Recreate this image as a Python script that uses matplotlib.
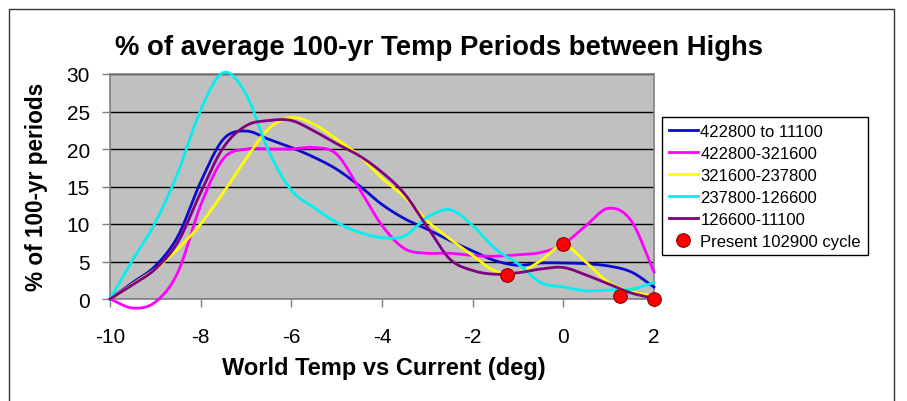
import numpy as np
import matplotlib
matplotlib.use("Agg")
import matplotlib.pyplot as plt
from matplotlib.patches import Rectangle

plt.rcParams['font.family'] = ['Liberation Sans', 'DejaVu Sans']
plt.rcParams['axes.unicode_minus'] = False

# data (x step 0.5 deg)
temps = [-10, -9.5, -9, -8.5, -8, -7.5, -7, -6.5, -6, -5.5, -5, -4.5, -4,
         -3.5, -3, -2.5, -2, -1.5, -1, -0.5, 0, 0.5, 1, 1.5, 2]
all_cycles = [0, 2.2, 4.4, 8.4, 15.6, 21.3, 22.4, 21.3, 20.2, 18.9, 17.3, 15.1, 12.6,
              10.7, 9.3, 7.8, 6.4, 5.1, 4.5, 4.8, 4.8, 4.7, 4.4, 3.6, 1.6]
cyc_422_321 = [0, -1.2, -0.4, 3.6, 12.5, 18.7, 20.0, 20.0, 20.0, 20.2, 19.3, 14.7, 9.8,
               6.7, 6.1, 6.1, 5.8, 5.7, 5.9, 6.2, 7.3, 9.8, 12.1, 10.4, 3.6]
cyc_321_237 = [0, 2.0, 4.0, 6.7, 10.0, 14.2, 18.7, 22.7, 24.2, 23.3, 21.3, 19.1, 16.1,
               13.6, 10.4, 8.0, 5.8, 3.7, 3.5, 5.1, 7.2, 4.9, 2.2, 1.0, 0.4]
cyc_237_126 = [0, 5.2, 10.2, 16.9, 25.2, 30.2, 27.3, 19.7, 14.5, 12.2, 10.2, 8.9, 8.2,
               8.4, 10.9, 11.9, 9.8, 6.7, 4.7, 2.2, 1.6, 1.1, 1.2, 1.3, 2.2]
cyc_126_11 = [0, 1.9, 4.0, 7.6, 14.2, 20.2, 23.1, 23.8, 23.8, 22.4, 20.7, 19.1, 16.9,
              14.0, 9.6, 5.3, 3.8, 3.3, 3.5, 4.0, 4.2, 3.2, 2.0, 0.8, 0.1]
present_x = [-1.25, 0, 1.25, 2]
present_y = [3.2, 7.3, 0.4, 0.0]

labels = ['422800 to 11100', '422800-321600', '321600-237800',
          '237800-126600', '126600-11100']
colors = ['#0a0ad0', '#ff00ff', '#ffff00', '#00f0f0', '#800080']
series = [all_cycles, cyc_422_321, cyc_321_237, cyc_237_126, cyc_126_11]


def smooth(x, y, n=16):
    # Excel-style smoothed line (Catmull-Rom through the points)
    x = np.asarray(x, float)
    y = np.asarray(y, float)
    px = np.concatenate([[2 * x[0] - x[1]], x, [2 * x[-1] - x[-2]]])
    py = np.concatenate([[2 * y[0] - y[1]], y, [2 * y[-1] - y[-2]]])
    t = np.linspace(0, 1, n, endpoint=False)
    xs, ys = [], []
    for i in range(1, len(px) - 2):
        for p, out in ((px, xs), (py, ys)):
            p0, p1, p2, p3 = p[i - 1], p[i], p[i + 1], p[i + 2]
            out.append(0.5 * (2 * p1 + (-p0 + p2) * t
                              + (2 * p0 - 5 * p1 + 4 * p2 - p3) * t ** 2
                              + (-p0 + 3 * p1 - 3 * p2 + p3) * t ** 3))
    xs.append([x[-1]])
    ys.append([y[-1]])
    return np.concatenate(xs), np.concatenate(ys)


fig = plt.figure(figsize=(9.07, 4.02), dpi=100)
fig.patch.set_facecolor('white')
fig.patches.append(Rectangle((9 / 907, -0.1), 885 / 907, 1.1 - 10 / 402,
                             transform=fig.transFigure, fill=False,
                             edgecolor='#333333', linewidth=1))

ax = fig.add_axes([110 / 907, 1 - 300 / 402, 544 / 907, 225 / 402])
ax.set_facecolor('#c0c0c0')

for vals, col, lab in zip(series, colors, labels):
    sx, sy = smooth(temps, vals)
    ax.plot(sx, sy, color=col, lw=2.0, label=lab, clip_on=False, zorder=3)

ax.plot(present_x, present_y, 'o', ms=9.8, mfc='#ff0000', mec='#8b0000', mew=0.8,
        label='Present 102900 cycle', clip_on=False, zorder=4)

ax.set_xlim(-10, 2)
ax.set_ylim(0, 30)
ax.set_xticks([-10, -8, -6, -4, -2, 0, 2])
ax.set_yticks([0, 5, 10, 15, 20, 25, 30])
ax.yaxis.grid(True, color='black', lw=1)
ax.set_axisbelow(True)
for s in ax.spines.values():
    s.set_color('#808080')
    s.set_linewidth(1.2)
ax.tick_params(direction='out', length=5.5, width=1, color='#808080',
               labelsize=15)
ax.tick_params(axis='x', pad=15)
ax.tick_params(axis='y', pad=9)

fig.text(439 / 907, 1 - 48 / 402, '% of average 100-yr Temp Periods between Highs',
         ha='center', va='center', fontsize=19.8, fontweight='bold')
fig.text(384 / 907, 1 - 368 / 402, 'World Temp vs Current (deg)',
         ha='center', va='center', fontsize=17, fontweight='bold')
fig.text(37 / 907, 1 - 187 / 402, '% of 100-yr periods', rotation=90,
         ha='center', va='center', fontsize=16.3, fontweight='bold')

handles, labs = ax.get_legend_handles_labels()
leg = fig.legend(handles, labs, loc='upper left',
                 bbox_to_anchor=(662 / 907, 1 - 118 / 402),
                 fontsize=12.0, frameon=True, fancybox=False, framealpha=1,
                 edgecolor='black', handlelength=1.75, handletextpad=0.15,
                 labelspacing=0.42, borderpad=0.4, borderaxespad=0)
leg.get_frame().set_linewidth(1)

fig.savefig('out.png', dpi=100)
